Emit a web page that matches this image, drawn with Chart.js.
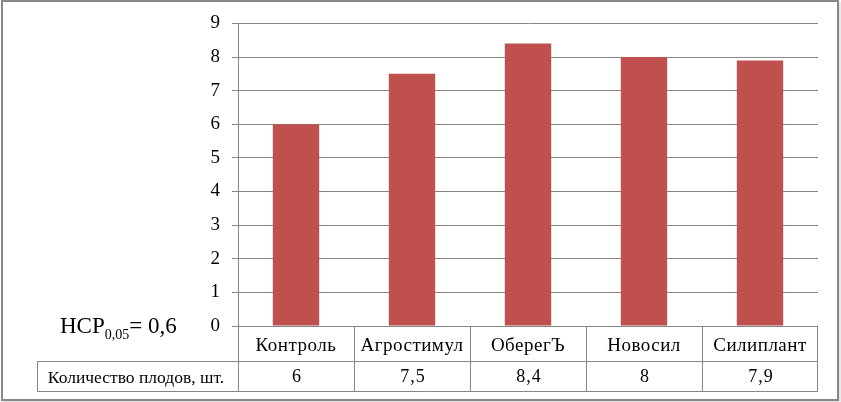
<!DOCTYPE html>
<html>
<head>
<meta charset="utf-8">
<script src="https://cdn.jsdelivr.net/npm/chart.js@4"></script>
<style>
  body { margin: 0; background: #fff; }
  #wrap { position: relative; width: 841px; height: 402px; }
  #frame {
    position: absolute; left: 1px; top: 0px; width: 834px; height: 397px;
    border: 2px solid #888; pointer-events: none;
    box-shadow: 2px 2px 2px rgba(0,0,0,0.12);
  }
  canvas { position: absolute; left: 0; top: 0; }
</style>
</head>
<body>
<div id="wrap">
  <canvas id="chart" width="841" height="402"></canvas>
  <div id="frame"></div>
</div>
<script>
// Data
const categories = ['Контроль', 'Агростимул', 'ОберегЪ', 'Новосил', 'Силиплант'];
const fruitCount = [6, 7.5, 8.4, 8, 7.9];
const seriesName = 'Количество плодов, шт.';
const yTicks = [0, 1, 2, 3, 4, 5, 6, 7, 8, 9];

const GRID = '#868686';
const FONT = "'Liberation Serif'";

// Excel-style data table under the plot, positioned from the x scale
const dataTable = {
  id: 'dataTable',
  afterDraw(chart) {
    const ctx = chart.ctx;
    const x = chart.scales.x;
    const area = chart.chartArea;
    const top = Math.round(area.bottom);
    const mid = top + 35;
    const bottom = mid + 30;
    const labelLeft = 37;
    const half = (x.getPixelForValue(1) - x.getPixelForValue(0)) / 2;

    ctx.save();
    ctx.strokeStyle = GRID;
    ctx.lineWidth = 1;
    ctx.beginPath();
    // horizontal lines
    ctx.moveTo(area.left, top + 0.5); ctx.lineTo(area.right, top + 0.5);
    ctx.moveTo(labelLeft, mid + 0.5); ctx.lineTo(area.right, mid + 0.5);
    ctx.moveTo(labelLeft, bottom + 0.5); ctx.lineTo(area.right, bottom + 0.5);
    // vertical lines
    ctx.moveTo(labelLeft + 0.5, mid); ctx.lineTo(labelLeft + 0.5, bottom);
    categories.forEach((c, i) => {
      const l = Math.round(x.getPixelForValue(i) - half) + 0.5;
      ctx.moveTo(l, top); ctx.lineTo(l, bottom);
    });
    const r = Math.round(area.right) - 0.5;
    ctx.moveTo(r, top); ctx.lineTo(r, bottom);
    ctx.stroke();

    ctx.fillStyle = '#000';
    ctx.textAlign = 'center';
    ctx.textBaseline = 'alphabetic';
    categories.forEach((c, i) => {
      const cx = x.getPixelForValue(i);
      ctx.font = '19px ' + FONT;
      ctx.letterSpacing = '0.5px';
      ctx.fillText(c, cx, top + 25);
      ctx.font = '18px ' + FONT;
      ctx.letterSpacing = '1px';
      ctx.fillText(String(fruitCount[i]).replace('.', ','), cx + 1, mid + 21);
    });
    ctx.letterSpacing = '0px';
    ctx.font = '17.5px ' + FONT;
    ctx.fillText(seriesName, 136, mid + 22);

    // LSD note
    ctx.textAlign = 'left';
    ctx.font = '23px ' + FONT;
    let tx = 60;
    ctx.fillText('НСР', tx, 333);
    tx += ctx.measureText('НСР').width;
    ctx.font = '14px ' + FONT;
    ctx.fillText('0,05', tx, 339);
    tx += ctx.measureText('0,05').width;
    ctx.font = '23px ' + FONT;
    ctx.fillText('= 0,6', tx, 333);
    ctx.restore();
  }
};

const draw = () => new Chart(document.getElementById('chart'), {
  type: 'bar',
  data: {
    labels: categories,
    datasets: [{
      label: seriesName,
      data: fruitCount,
      backgroundColor: '#C0504D',
      categoryPercentage: 1,
      barPercentage: 0.4
    }]
  },
  options: {
    responsive: false,
    animation: false,
    layout: { padding: { left: 0, top: 23, right: 23, bottom: 76 } },
    plugins: { legend: { display: false }, tooltip: { enabled: false } },
    scales: {
      x: { display: false },
      y: {
        min: 0,
        max: 9,
        afterFit: s => { s.width = 238; },
        afterBuildTicks: s => { s.ticks = yTicks.map(v => ({ value: v })); },
        grid: { color: GRID, tickLength: 6 },
        border: { color: GRID },
        ticks: { color: '#000', padding: 12, font: { family: FONT, size: 19 } }
      }
    }
  },
  plugins: [dataTable]
});

// make sure the serif face is ready before the canvas uses it
document.fonts.load("19px 'Liberation Serif'").then(draw, draw);
</script>
</body>
</html>
